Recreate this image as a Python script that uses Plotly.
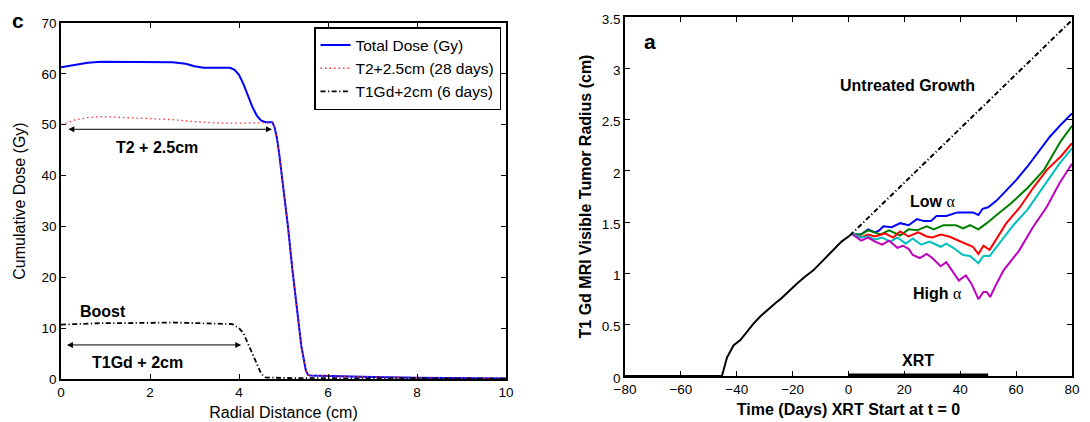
import plotly.graph_objects as go

# ---------------- Panel c: cumulative dose profiles ----------------
radial_total = [0, 0.3, 0.6, 0.9, 1.2, 1.5, 2.0, 2.5, 2.8, 3.0, 3.2, 3.5, 3.8, 3.9, 4.0, 4.1, 4.2,
                4.3, 4.4, 4.5, 4.6, 4.75, 4.8, 4.85, 4.9, 5.0, 5.1, 5.2, 5.3, 5.4, 5.5, 5.55, 5.6,
                6, 7, 8, 9, 10]
dose_total = [61.3, 61.8, 62.2, 62.4, 62.4, 62.3, 62.3, 62.3, 62.0, 61.5, 61.2, 61.2, 61.2, 60.8,
              59.8, 58.0, 55.8, 53.5, 51.8, 50.8, 50.5, 50.5, 49.5, 47.5, 44.5, 37.5, 30.0, 21.5,
              13.5, 6.5, 1.8, 0.8, 0.7, 0.6, 0.4, 0.25, 0.15, 0.1]

radial_t2 = [0, 0.3, 0.6, 0.9, 1.2, 1.5, 2.0, 2.5, 3.0, 3.3, 3.6, 4.0, 4.5, 4.75, 4.8, 4.85, 4.9,
             5.0, 5.1, 5.2, 5.3, 5.4, 5.5, 5.55, 5.6, 6, 7, 8, 9, 10]
dose_t2 = [50.0, 50.9, 51.4, 51.6, 51.5, 51.4, 51.2, 51.0, 50.6, 50.4, 50.3, 50.3, 50.4, 50.4,
           49.5, 47.5, 44.5, 37.5, 30.0, 21.5, 13.5, 6.5, 1.8, 0.8, 0.7, 0.6, 0.4, 0.25, 0.15, 0.1]

radial_t1gd = [0, 0.5, 1, 1.5, 2, 2.5, 3, 3.5, 3.85, 4.0, 4.1, 4.2, 4.3, 4.4, 4.5, 4.6, 5, 6, 7,
               8, 9, 10]
dose_t1gd = [10.7, 10.9, 11.0, 11.0, 11.1, 11.1, 11.0, 10.8, 10.8, 10.0, 9.0, 7.0, 5.0, 3.0, 1.0,
             0.3, 0.2, 0.15, 0.1, 0.08, 0.05, 0.05]

# ---------------- Panel a: tumour radius vs time ----------------
time_pre = [-80, -45.3, -43.5, -41.1, -38.7, -36.4, -34, -31.6, -29.2, -26.2, -23.9, -20.9,
            -18.5, -15.5, -12.6, -9.0, -5.5, -2.5, 0.5]
radius_pre = [0, 0, 0.18, 0.30, 0.35, 0.43, 0.51, 0.58, 0.64, 0.71, 0.76, 0.84, 0.90, 0.97,
              1.03, 1.13, 1.23, 1.31, 1.37]

time_untreated = [0.5, 80]
radius_untreated = [1.37, 3.47]

time_xrt = [0, 50]
level_xrt = [0, 0]

time_blue = [1.5, 4.5, 7, 9.5, 11, 12.5, 15.5, 18.5, 21.5, 24.5, 27, 29.5, 31.5, 35, 39, 44.5,
             46.5, 48, 50, 53, 56.5, 60, 64, 68.5, 72, 76, 80]
radius_blue = [1.38, 1.38, 1.43, 1.40, 1.42, 1.46, 1.45, 1.49, 1.47, 1.53, 1.51, 1.51, 1.56, 1.56,
               1.595, 1.595, 1.57, 1.63, 1.645, 1.71, 1.81, 1.91, 2.04, 2.2, 2.33, 2.45, 2.56]

time_green = [1.5, 4.5, 7, 9.5, 11.5, 14.5, 18.5, 21.5, 24.5, 28, 30.5, 34, 38.5, 41, 43.5, 46.5,
              49.5, 53, 58, 64, 70, 76, 80]
radius_green = [1.38, 1.38, 1.42, 1.40, 1.38, 1.42, 1.37, 1.43, 1.42, 1.46, 1.43, 1.47, 1.47,
                1.44, 1.47, 1.43, 1.49, 1.57, 1.68, 1.83, 2.01, 2.29, 2.44]

time_red = [1.5, 4.5, 7, 9.5, 13, 16, 18.5, 21.5, 25, 28, 30, 33, 36, 38.5, 41.5, 44.5, 46.5,
            48.3, 50.5, 53, 56.5, 61.5, 66, 71, 76, 80]
radius_red = [1.38, 1.35, 1.38, 1.36, 1.39, 1.35, 1.41, 1.36, 1.40, 1.36, 1.35, 1.38, 1.36, 1.33,
              1.29, 1.26, 1.19, 1.27, 1.23, 1.34, 1.49, 1.65, 1.83, 2.01, 2.14, 2.27]

time_cyan = [1.5, 4.5, 7, 9.5, 12, 15, 17.5, 20.5, 23, 26, 29, 33, 35, 37.5, 41, 43.5, 46.5, 48.3,
             50.5, 54, 59, 64, 70, 75.5, 80]
radius_cyan = [1.38, 1.35, 1.36, 1.33, 1.35, 1.31, 1.35, 1.29, 1.34, 1.28, 1.31, 1.26, 1.29, 1.25,
               1.18, 1.17, 1.10, 1.17, 1.17, 1.29, 1.47, 1.62, 1.85, 2.07, 2.22]

time_magenta = [1.5, 4.5, 7, 9.5, 12, 14.5, 17.5, 19.5, 21.5, 23, 25.5, 28, 30, 33, 35, 37.5,
                39.5, 42, 44, 46.5, 48.3, 49.5, 50.7, 53, 55.5, 61, 66, 71, 75.5, 80]
radius_magenta = [1.38, 1.32, 1.35, 1.31, 1.28, 1.32, 1.25, 1.27, 1.24, 1.18, 1.15, 1.19, 1.15,
                  1.07, 1.11, 1.01, 0.93, 0.98, 0.90, 0.75, 0.82, 0.82, 0.77, 0.90, 1.03, 1.22,
                  1.45, 1.65, 1.88, 2.07]

FONT = "Liberation Sans, Arial, Helvetica, sans-serif"
DASHDOT = "5px,2.5px,1.2px,2.5px"

# The page body has an 8px default margin, so the figure is sized to fit the window.
W, H, OFF = 1082, 414, 8


def px_x(X):
    return (X - OFF) / W


def px_y(Y):
    return (H - (Y - OFF)) / H


fig = go.Figure()

# Panel c traces
fig.add_trace(go.Scatter(x=radial_total, y=dose_total, mode="lines", name="Total Dose (Gy)",
                         line=dict(color="#0000ff", width=2), xaxis="x", yaxis="y"))
fig.add_trace(go.Scatter(x=radial_t2, y=dose_t2, mode="lines", name="T2+2.5cm (28 days)",
                         line=dict(color="#ff3030", width=1.3, dash="1.5px,3px"), xaxis="x", yaxis="y"))
fig.add_trace(go.Scatter(x=radial_t1gd, y=dose_t1gd, mode="lines", name="T1Gd+2cm (6 days)",
                         line=dict(color="#000000", width=1.8, dash=DASHDOT), xaxis="x", yaxis="y"))

# Panel a traces
fig.add_trace(go.Scatter(x=time_pre, y=radius_pre, mode="lines", showlegend=False,
                         line=dict(color="black", width=2), xaxis="x2", yaxis="y2"))
fig.add_trace(go.Scatter(x=time_untreated, y=radius_untreated, mode="lines", showlegend=False,
                         line=dict(color="black", width=2, dash=DASHDOT), xaxis="x2", yaxis="y2"))
fig.add_trace(go.Scatter(x=time_xrt, y=level_xrt, mode="lines", showlegend=False,
                         line=dict(color="black", width=5), xaxis="x2", yaxis="y2"))
for tx, ry, col in [(time_blue, radius_blue, "#0000ff"),
                    (time_green, radius_green, "#008000"),
                    (time_red, radius_red, "#ff0000"),
                    (time_cyan, radius_cyan, "#00bfbf"),
                    (time_magenta, radius_magenta, "#bf00bf")]:
    fig.add_trace(go.Scatter(x=tx, y=ry, mode="lines", showlegend=False,
                             line=dict(color=col, width=2), xaxis="x2", yaxis="y2"))

axis_common = dict(showline=True, linecolor="black", linewidth=1.5, mirror="ticks",
                   ticks="inside", ticklen=5, tickwidth=1, tickcolor="black",
                   showgrid=False, zeroline=False, automargin=False,
                   tickfont=dict(family=FONT, size=13.5, color="black"))

fig.update_layout(
    width=W, height=H,
    margin=dict(l=0, r=0, t=0, b=0),
    paper_bgcolor="white", plot_bgcolor="white",
    font=dict(family=FONT, color="black"),
    xaxis=dict(domain=[px_x(61), px_x(506)], range=[0, 10], tickvals=[0, 2, 4, 6, 8, 10],
               anchor="y",
               title=dict(text="Radial Distance (cm)", font=dict(size=16), standoff=8),
               **axis_common),
    yaxis=dict(domain=[px_y(379), px_y(23)], range=[0, 70],
               tickvals=[0, 10, 20, 30, 40, 50, 60, 70], anchor="x",
               title=dict(text="Cumulative Dose (Gy)", font=dict(size=16), standoff=12),
               **axis_common),
    xaxis2=dict(domain=[px_x(625), px_x(1072)], range=[-80, 80],
                tickvals=[-80, -60, -40, -20, 0, 20, 40, 60, 80], anchor="y2",
                title=dict(text="<b>Time (Days) XRT Start at t = 0</b>", font=dict(size=16), standoff=8),
                **axis_common),
    yaxis2=dict(domain=[px_y(376), px_y(17)], range=[0, 3.5],
                tickvals=[0, 0.5, 1, 1.5, 2, 2.5, 3, 3.5], anchor="x2", ticklabelshift=2,
                title=dict(text="<b>T1 Gd MRI Visible Tumor Radius (cm)</b>", font=dict(size=16), standoff=6),
                **axis_common),
    legend=dict(x=px_x(501), xanchor="right", y=px_y(27), yanchor="top",
                bgcolor="white", bordercolor="black", borderwidth=1.5,
                font=dict(family=FONT, size=15.5, color="black"),
                tracegroupgap=0, itemwidth=30),
    showlegend=True,
)

ann = []
# panel labels
ann.append(dict(text="<b>c</b>", x=px_x(10), y=px_y(20), xref="paper", yref="paper",
                xanchor="left", yanchor="middle", showarrow=False, font=dict(size=21)))
ann.append(dict(text="<b>a</b>", x=-74, y=3.26, xref="x2", yref="y2",
                xanchor="left", yanchor="middle", showarrow=False, font=dict(size=21)))
# panel c labels and arrows
ann.append(dict(x=4.74, y=49.1, ax=0.13, ay=49.1, xref="x", yref="y", axref="x", ayref="y",
                text="", showarrow=True, arrowhead=2, startarrowhead=2, arrowside="end+start",
                arrowsize=1.2, startarrowsize=1.2, arrowwidth=1, arrowcolor="black",
                standoff=0, startstandoff=0))
ann.append(dict(text="<b>T2 + 2.5cm</b>", x=2.15, y=45.6, xref="x", yref="y",
                showarrow=False, font=dict(size=16)))
ann.append(dict(x=4.05, y=6.7, ax=0.1, ay=6.7, xref="x", yref="y", axref="x", ayref="y",
                text="", showarrow=True, arrowhead=2, startarrowhead=2, arrowside="end+start",
                arrowsize=1.2, startarrowsize=1.2, arrowwidth=1, arrowcolor="black",
                standoff=0, startstandoff=0))
ann.append(dict(text="<b>T1Gd + 2cm</b>", x=1.72, y=3.3, xref="x", yref="y",
                showarrow=False, font=dict(size=16)))
ann.append(dict(text="<b>Boost</b>", x=0.95, y=13.2, xref="x", yref="y",
                showarrow=False, font=dict(size=16)))
# panel a labels
ann.append(dict(text="<b>Untreated Growth</b>", x=21, y=2.83, xref="x2", yref="y2",
                showarrow=False, font=dict(size=16)))
ann.append(dict(text="<b>Low</b> <span style='font-family:Liberation Serif'>α</span>", x=30,
                y=1.70, xref="x2", yref="y2", showarrow=False, font=dict(size=16)))
ann.append(dict(text="<b>High</b> <span style='font-family:Liberation Serif'>α</span>", x=31.7,
                y=0.80, xref="x2", yref="y2", showarrow=False, font=dict(size=16)))
ann.append(dict(text="<b>XRT</b>", x=25, y=0.15, xref="x2", yref="y2",
                showarrow=False, font=dict(size=16)))
fig.update_layout(annotations=ann)

fig.write_html("out.html")
